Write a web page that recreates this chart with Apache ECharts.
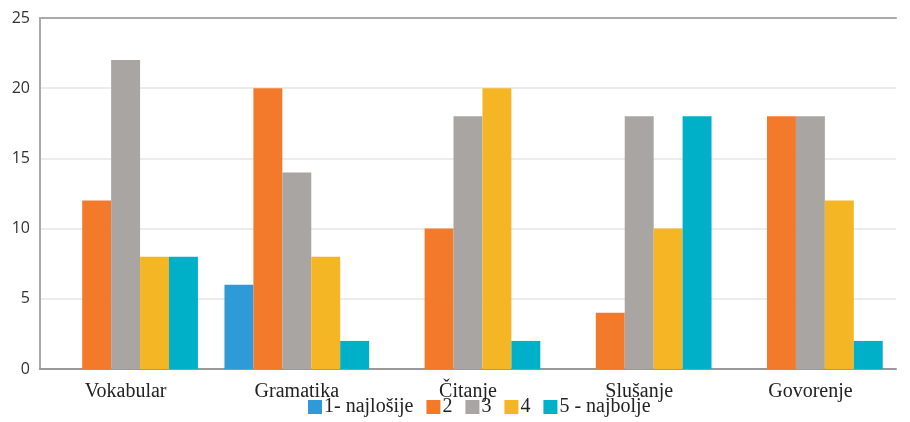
<!DOCTYPE html>
<html>
<head>
<meta charset="utf-8">
<script src="https://cdn.jsdelivr.net/npm/echarts@6/dist/echarts.min.js"></script>
<style>
  html, body { margin: 0; padding: 0; background: #fff; }
  #chart { width: 910px; height: 422px; }
</style>
</head>
<body>
<div id="chart"></div>
<script>
const categories = ['Vokabular', 'Gramatika', 'Čitanje', 'Slušanje', 'Govorenje'];
const seriesNames = ['1- najlošije', '2', '3', '4', '5 - najbolje'];
const ocjena1 = [0, 6, 0, 0, 0];
const ocjena2 = [12, 20, 10, 4, 18];
const ocjena3 = [22, 14, 18, 18, 18];
const ocjena4 = [8, 8, 20, 10, 12];
const ocjena5 = [8, 2, 2, 18, 2];
const colors = ['#2e9bd8', '#f47a2b', '#a8a5a2', '#f4b625', '#00afc8'];

let myChart = echarts.init(document.getElementById('chart'));
const allData = [ocjena1, ocjena2, ocjena3, ocjena4, ocjena5];

const option = {
    animation: false,
    color: colors,
    grid: {
        left: 40,
        right: 14,
        top: 18,
        bottom: 53
    },
    legend: {
        bottom: 0,
        left: 303,
        itemWidth: 14,
        itemHeight: 14,
        itemGap: 13,
        icon: 'rect',
        textStyle: {
            fontFamily: 'Liberation Serif',
            fontSize: 20,
            color: '#222',
            padding: [0, 0, 0, -3]
        },
        data: seriesNames
    },
    xAxis: [
        {
            type: 'category',
            data: categories,
            axisLine: { show: true, lineStyle: { color: '#999', width: 2 } },
            axisTick: { show: false },
            axisLabel: {
                fontFamily: 'Liberation Serif',
                fontSize: 20,
                color: '#222',
                margin: 13
            }
        },
        {
            type: 'category',
            position: 'top',
            data: categories,
            axisLine: { show: true, lineStyle: { color: '#aaa', width: 2 } },
            axisTick: { show: false },
            axisLabel: { show: false }
        }
    ],
    yAxis: {
        type: 'value',
        min: 0,
        max: 25,
        interval: 5,
        axisLine: { show: true, lineStyle: { color: '#aaa', width: 2 } },
        axisTick: { show: false },
        axisLabel: {
            fontFamily: 'Open Sans',
            fontSize: 16,
            color: '#333',
            margin: 10
        },
        splitLine: { show: true, lineStyle: { color: '#ececec', width: 2 } }
    },
    series: seriesNames.map(function (name, i) {
        return {
            name: name,
            type: 'bar',
            barGap: '0%',
            barCategoryGap: '15.5%',
            data: allData[i]
        };
    })
};
option && myChart.setOption(option);
</script>
</body>
</html>
